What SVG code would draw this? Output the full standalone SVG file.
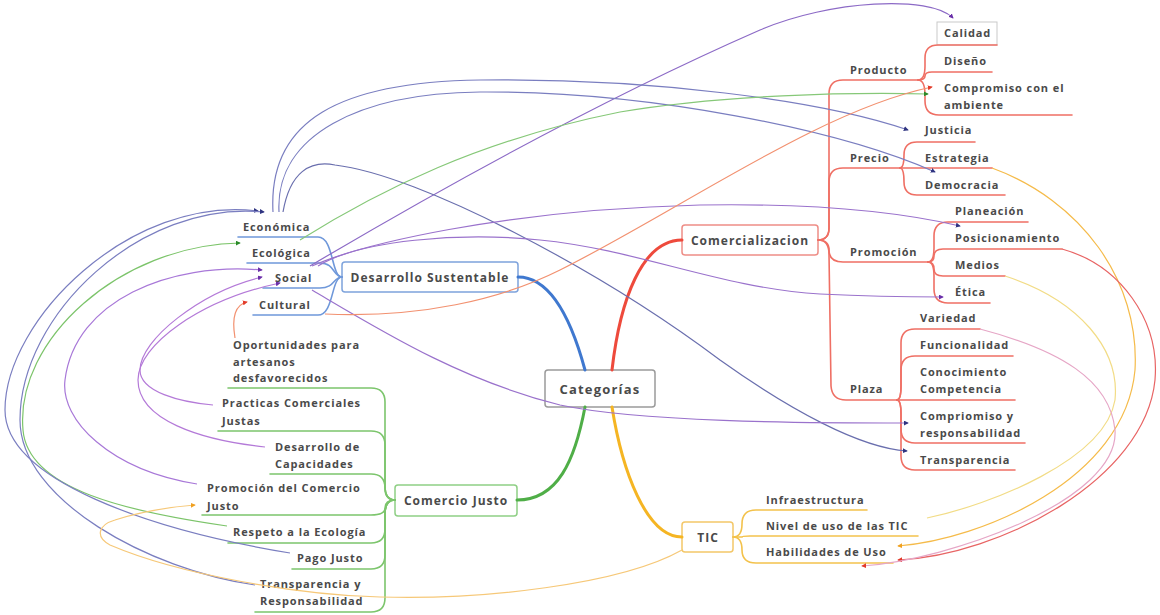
<svg xmlns="http://www.w3.org/2000/svg" width="1160" height="615" viewBox="0 0 1160 615">
<style>
.t{font-family:"Open Sans","Liberation Sans",sans-serif;font-size:11px;font-weight:700;fill:#4a4a4a;letter-spacing:0.9px}
.tm{font-size:12px;letter-spacing:1px;text-anchor:middle}
.box{fill:#fff;stroke-width:1.5}
.br{fill:none;stroke-width:1.6;stroke-linecap:round}
.main{fill:none;stroke-width:3;stroke-linecap:round}
.lk{fill:none;stroke-width:1.2}
.bl{stroke:#6f98da}.rd{stroke:#ef6f64}.gr{stroke:#7cc56c}.yl{stroke:#f3c24c}
</style>
<defs>
<marker id="aB" viewBox="0 0 6 6" refX="5" refY="3" markerWidth="5" markerHeight="5" orient="auto" markerUnits="userSpaceOnUse"><path d="M0,0L6,3L0,6z" fill="#2f3480"/></marker>
<marker id="aP" viewBox="0 0 6 6" refX="5" refY="3" markerWidth="5" markerHeight="5" orient="auto" markerUnits="userSpaceOnUse"><path d="M0,0L6,3L0,6z" fill="#6a2fa8"/></marker>
<marker id="aG" viewBox="0 0 6 6" refX="5" refY="3" markerWidth="5" markerHeight="5" orient="auto" markerUnits="userSpaceOnUse"><path d="M0,0L6,3L0,6z" fill="#2a8a2a"/></marker>
<marker id="aR" viewBox="0 0 6 6" refX="5" refY="3" markerWidth="5" markerHeight="5" orient="auto" markerUnits="userSpaceOnUse"><path d="M0,0L6,3L0,6z" fill="#e23a2a"/></marker>
<marker id="aO" viewBox="0 0 6 6" refX="5" refY="3" markerWidth="5" markerHeight="5" orient="auto" markerUnits="userSpaceOnUse"><path d="M0,0L6,3L0,6z" fill="#f0a020"/></marker>
</defs>
<rect width="1160" height="615" fill="#fff"/>

<g id="nodes">
<g id="categorias"><rect class="box" x="545" y="370" width="110" height="37" rx="3" stroke="#9a9a9a"/><text class="t tm" x="600" y="394" style="font-size:13px;letter-spacing:1.2px">Categorías</text></g>
<g id="desarrollo"><rect class="box" x="342" y="262" width="176" height="30" rx="3" stroke="#7ea3dc"/><text class="t tm" x="430" y="282">Desarrollo Sustentable</text></g>
<g id="comercializacion"><rect class="box" x="682" y="225" width="136" height="30" rx="3" stroke="#ee8d86"/><text class="t tm" x="750" y="245">Comercializacion</text></g>
<g id="comercio-justo"><rect class="box" x="395" y="485" width="122" height="31" rx="3" stroke="#8fcf85"/><text class="t tm" x="456" y="505">Comercio Justo</text></g>
<g id="tic"><rect class="box" x="682" y="522" width="51" height="30" rx="3" stroke="#f3c768"/><text class="t tm" x="708" y="542">TIC</text></g>

<g id="economica"><text class="t" x="243" y="231">Económica</text></g>
<g id="ecologica"><text class="t" x="252" y="257">Ecológica</text></g>
<g id="social"><text class="t" x="275" y="282">Social</text></g>
<g id="cultural"><text class="t" x="259" y="309">Cultural</text></g>

<g id="oportunidades"><text class="t" x="233" y="349">Oportunidades para</text><text class="t" x="233" y="366">artesanos</text><text class="t" x="233" y="382">desfavorecidos</text></g>
<g id="practicas"><text class="t" x="222" y="407">Practicas Comerciales</text><text class="t" x="222" y="425">Justas</text></g>
<g id="capacidades"><text class="t" x="275" y="451">Desarrollo de</text><text class="t" x="275" y="468">Capacidades</text></g>
<g id="promocion-cj"><text class="t" x="207" y="492">Promoción del Comercio</text><text class="t" x="207" y="510">Justo</text></g>
<g id="respeto"><text class="t" x="233" y="536">Respeto a la Ecología</text></g>
<g id="pago"><text class="t" x="297" y="562">Pago Justo</text></g>
<g id="transp-resp"><text class="t" x="260" y="588">Transparencia y</text><text class="t" x="260" y="605">Responsabilidad</text></g>

<g id="producto"><text class="t" x="850" y="74">Producto</text></g>
<g id="precio"><text class="t" x="850" y="162">Precio</text></g>
<g id="promocion"><text class="t" x="850" y="256">Promoción</text></g>
<g id="plaza"><text class="t" x="850" y="393">Plaza</text></g>

<g id="calidad"><rect x="937" y="22" width="60" height="23" fill="#fff" stroke="#c9c9c9" stroke-width="1"/><text class="t" x="944" y="37">Calidad</text></g>
<g id="diseno"><text class="t" x="944" y="65">Diseño</text></g>
<g id="compromiso"><text class="t" x="944" y="92">Compromiso con el</text><text class="t" x="944" y="109">ambiente</text></g>
<g id="justicia"><text class="t" x="925" y="134">Justicia</text></g>
<g id="estrategia"><text class="t" x="925" y="162">Estrategia</text></g>
<g id="democracia"><text class="t" x="925" y="189">Democracia</text></g>
<g id="planeacion"><text class="t" x="955" y="215">Planeación</text></g>
<g id="posicionamiento"><text class="t" x="955" y="242">Posicionamiento</text></g>
<g id="medios"><text class="t" x="955" y="269">Medios</text></g>
<g id="etica"><text class="t" x="955" y="296">Ética</text></g>
<g id="variedad"><text class="t" x="920" y="322">Variedad</text></g>
<g id="funcionalidad"><text class="t" x="920" y="349">Funcionalidad</text></g>
<g id="conocimiento"><text class="t" x="920" y="376">Conocimiento</text><text class="t" x="920" y="393">Competencia</text></g>
<g id="compriomiso"><text class="t" x="920" y="420">Compriomiso y</text><text class="t" x="920" y="437">responsabilidad</text></g>
<g id="transparencia"><text class="t" x="920" y="464">Transparencia</text></g>

<g id="infraestructura"><text class="t" x="766" y="504">Infraestructura</text></g>
<g id="nivel"><text class="t" x="766" y="530">Nivel de uso de las TIC</text></g>
<g id="habilidades"><text class="t" x="766" y="556">Habilidades de Uso</text></g>
</g>

<g id="connectors">
<path class="main" stroke="#3f78cf" d="M518,277 C552,277 572,322 585,370"/>
<path class="main" stroke="#ee4a3c" d="M612,370 C620,300 642,240 682,240"/>
<path class="main" stroke="#4fae47" d="M585,407 C575,460 558,500 517,500"/>
<path class="main" stroke="#f5b523" d="M612,407 C622,470 646,537 682,537"/>

<path class="br bl" d="M342,277 C331,277 334,237 318,237 L238,237"/>
<path class="br bl" d="M342,277 C333,277 335,263 320,263 L247,263"/>
<path class="br bl" d="M342,277 C333,277 335,288 320,288 L263,288"/>
<path class="br bl" d="M342,277 C331,277 334,315 318,315 L253,315"/>

<path class="br rd" d="M818,240 Q829,240 829,228 L829,94 Q829,80 843,80 L918,80"/>
<path class="br rd" d="M818,240 Q829,240 829,228 L829,182 Q829,168 843,168 L900,168"/>
<path class="br rd" d="M818,240 Q829,240 829,250 Q829,262 843,262 L928,262"/>
<path class="br rd" d="M818,240 Q829,240 829,254 L831,386 Q832,400 846,400 L897,400"/>

<path class="br rd" d="M918,80 Q925,80 925,66 L925,58 Q925,45 938,45 L997,45"/>
<path class="br rd" d="M918,80 Q925,80 925,76 Q925,72 932,72 L992,72"/>
<path class="br rd" d="M918,80 Q925,80 925,95 L925,101 Q925,115 939,115 L1072,115"/>

<path class="br rd" d="M900,168 Q904,168 904,155 Q904,142 917,142 L975,142"/>
<path class="br rd" d="M900,168 L992,168"/>
<path class="br rd" d="M900,168 Q904,168 904,182 Q904,195 917,195 L1005,195"/>

<path class="br rd" d="M928,262 Q934,262 934,248 L934,236 Q934,222 948,222 L1028,222"/>
<path class="br rd" d="M928,262 Q934,262 934,256 Q934,249 943,249 L1062,249"/>
<path class="br rd" d="M928,262 Q934,262 934,269 Q934,276 943,276 L1005,276"/>
<path class="br rd" d="M928,262 Q934,262 934,276 L934,289 Q934,303 948,303 L990,303"/>

<path class="br rd" d="M897,400 Q901,400 901,386 L901,343 Q901,329 915,329 L980,329"/>
<path class="br rd" d="M897,400 Q901,400 901,386 L901,370 Q901,356 915,356 L1013,356"/>
<path class="br rd" d="M897,400 L1015,400"/>
<path class="br rd" d="M897,400 Q901,400 901,414 L901,429 Q901,443 915,443 L1025,443"/>
<path class="br rd" d="M897,400 Q901,400 901,414 L901,456 Q901,470 915,470 L1015,470"/>

<path class="br yl" d="M733,537 Q742,537 742,524 Q742,510 756,510 L867,510"/>
<path class="br yl" d="M733,537 L742,537 Q742,536 750,536 L918,536"/>
<path class="br yl" d="M733,537 Q742,537 742,550 Q742,563 756,563 L893,563"/>

<path class="br gr" d="M395,500 Q385,500 385,486 L385,402 Q385,388 371,388 L228,388"/>
<path class="br gr" d="M395,500 Q385,500 385,486 L385,445 Q385,431 371,431 L218,431"/>
<path class="br gr" d="M395,500 Q385,500 385,488 Q385,474 371,474 L270,474"/>
<path class="br gr" d="M395,500 Q385,500 385,508 Q385,515 371,515 L202,515"/>
<path class="br gr" d="M395,500 Q385,500 385,514 L385,529 Q385,543 371,543 L228,543"/>
<path class="br gr" d="M395,500 Q385,500 385,514 L385,555 Q385,569 371,569 L292,569"/>
<path class="br gr" d="M395,500 Q385,500 385,514 L385,598 Q385,612 371,612 L255,612"/>

<path class="lk" stroke="#8c6ac6" marker-end="url(#aP)" d="M310,266 C430,195 600,100 760,30 C830,0 930,-5 953,18"/>
<path class="lk" stroke="#7a7ec0" marker-end="url(#aB)" d="M273,212 C268,120 340,82 480,80 C650,78 820,100 908,130"/>
<path class="lk" stroke="#7a7ec0" marker-end="url(#aB)" d="M279,212 C275,135 360,93 480,92 C650,91 840,130 935,172"/>
<path class="lk" stroke="#6a6fae" marker-end="url(#aB)" d="M283,212 C290,172 310,160 335,165 C420,175 600,270 720,360 C790,410 860,448 907,451"/>
<path class="lk" stroke="#9a72cc" marker-end="url(#aB)" d="M312,266 C360,245 500,210 700,205 C820,203 900,212 960,226"/>
<path class="lk" stroke="#9a72cc" marker-end="url(#aP)" d="M318,266 C360,240 460,232 540,240 C640,250 720,288 820,294 C880,297 920,297 943,297"/>
<path class="lk" stroke="#9a72cc" marker-end="url(#aB)" d="M312,290 C380,330 460,380 560,405 C640,422 800,423 908,423"/>
<path class="lk" stroke="#86c878" marker-end="url(#aG)" d="M300,240 C380,190 480,140 620,112 C720,95 850,92 928,94"/>
<path class="lk" stroke="#f29170" marker-end="url(#aR)" d="M325,314 C420,318 500,300 560,270 C680,210 820,110 932,87"/>
<path class="lk" stroke="#f29170" marker-end="url(#aR)" d="M235,338 C232,320 234,305 247,302"/>
<path class="lk" stroke="#7cc46a" marker-end="url(#aG)" d="M227,526 C130,512 28,490 23,430 C15,340 120,245 240,243"/>
<path class="lk" stroke="#7a7ec0" marker-end="url(#aB)" d="M290,553 C150,530 5,480 5,410 C5,320 130,195 258,211"/>
<path class="lk" stroke="#7a7ec0" marker-end="url(#aB)" d="M255,585 C150,570 20,500 20,420 C20,315 140,200 264,212"/>
<path class="lk" stroke="#a878d8" marker-end="url(#aP)" d="M197,484 C110,470 60,420 65,380 C75,300 170,262 262,270"/>
<path class="lk" stroke="#b47ad8" marker-end="url(#aP)" d="M213,405 C180,402 140,392 140,370 C140,340 200,292 262,277"/>
<path class="lk" stroke="#b47ad8" marker-end="url(#aP)" d="M265,447 C200,440 138,420 138,380 C138,345 200,300 280,283"/>
<path class="lk" stroke="#f6c878" marker-end="url(#aO)" d="M682,550 C620,585 480,600 380,597 C300,595 180,575 110,545 C95,537 98,525 115,520 C140,512 170,507 195,505"/>
<path class="lk" stroke="#f5bb4a" marker-end="url(#aO)" d="M992,168 C1080,200 1140,280 1135,370 C1125,480 980,540 898,546"/>
<path class="lk" stroke="#f2dc86" d="M1005,276 C1080,300 1120,350 1115,400 C1105,460 990,505 927,518"/>
<path class="lk" stroke="#e86464" marker-end="url(#aR)" d="M1062,249 C1120,265 1160,320 1155,380 C1145,480 1000,555 898,560"/>
<path class="lk" stroke="#e6a6c6" marker-end="url(#aR)" d="M980,329 C1060,350 1110,380 1115,430 C1120,500 950,560 862,566"/>
</g>
</svg>
